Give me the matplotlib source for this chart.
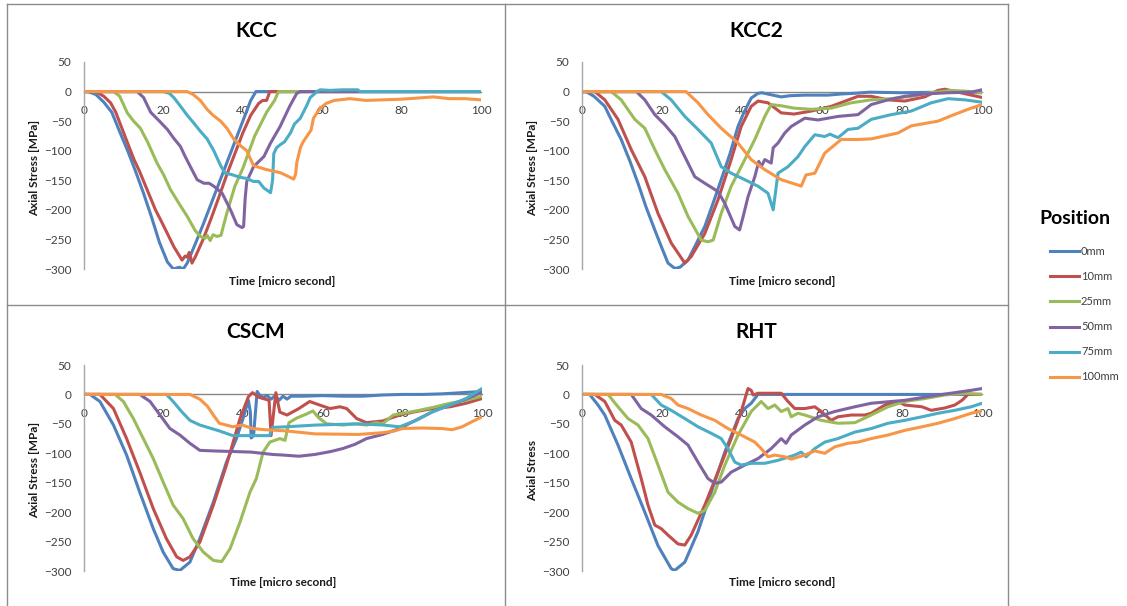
import matplotlib
matplotlib.use('Agg')
import matplotlib.pyplot as plt
from matplotlib.lines import Line2D

plt.rcParams['font.family'] = ['Lato', 'DejaVu Sans']

W, H = 1127, 606

positions = ['0mm', '10mm', '25mm', '50mm', '75mm', '100mm']
colors = ['#4F81BD', '#C0504D', '#9BBB59', '#8064A2', '#4BACC6', '#F79646']

x_ticks = [0, 20, 40, 60, 80, 100]
y_ticks = [-300, -250, -200, -150, -100, -50, 0, 50]

# ---- KCC : (time [micro s], axial stress [MPa]) ----
kcc_0mm = [(0, 0), (1, 0), (3, -5), (5, -18), (7, -35), (9, -68), (11, -100), (13, -135),
           (15, -172), (17, -212), (19, -255), (21, -288), (22.5, -300), (24, -297), (25, -300),
           (26, -290), (28, -258), (30, -225), (32, -190), (34, -155), (36, -120), (38, -85),
           (40, -50), (42, -15), (43.3, 0), (100, 0)]
kcc_10mm = [(0, 0), (3, 0), (5, -8), (6.7, -19), (8, -35), (10, -70), (12.6, -115), (14, -135),
            (15.9, -166), (18, -200), (19.3, -217), (21, -240), (22.6, -262), (24.7, -285),
            (25.5, -278), (26, -280), (26.5, -272), (27.2, -290), (28, -280), (30, -250),
            (32, -215), (34, -178), (36, -140), (38, -105), (40, -70), (42, -40), (44, -20),
            (45, -15), (46, -15), (46.8, 0), (100, 0)]
kcc_25mm = [(0, 0), (7.5, 0), (9, -8), (10.9, -36), (12.5, -50), (14.2, -62), (16, -85),
            (18.4, -121), (20, -140), (21.8, -166), (24, -190), (26, -211), (28, -235),
            (29.3, -245), (30.5, -248), (31, -243), (31.8, -252), (32.5, -242), (33.5, -245),
            (34.5, -243), (36, -205), (38, -160), (40, -130), (43, -75), (46, -35), (48, -15),
            (49, 0), (100, 0)]
kcc_50mm = [(0, 0), (13.4, 0), (15, -10), (16.8, -35), (19, -50), (21, -64), (22.5, -78),
            (24.3, -93), (25.5, -110), (26.8, -127), (28.5, -149), (30.2, -155), (31.5, -155),
            (32.7, -160), (34.8, -172), (36.9, -200), (38.5, -225), (39.8, -230), (40.2, -228),
            (40.6, -180), (41, -152), (42.7, -127), (45.3, -110), (47, -87), (49.4, -59),
            (51.8, -25), (53.6, -3), (54.5, 0), (100, 0)]
kcc_75mm = [(0, 0), (20, 0), (21.5, -3), (22.6, -10), (24, -22), (26, -40), (27.5, -52),
            (29.3, -67), (31, -80), (32.7, -100), (34.4, -125), (35.5, -138), (37, -140),
            (39.4, -145), (41, -147), (42.7, -152), (44, -152), (45.3, -163), (47, -171),
            (47.5, -150), (47.8, -105), (48.5, -95), (49.4, -90), (50.5, -85), (52, -70),
            (53, -55), (54.5, -45), (56, -25), (57, -10), (58.7, 0), (59.5, 3), (62, 2),
            (65, 3), (69, 3), (69.5, 0), (100, 0)]
kcc_100mm = [(0, 0), (26, 0), (27.5, -5), (29.3, -15), (31, -30), (32.5, -40), (34.4, -50),
             (36, -62), (37.7, -80), (39.5, -92), (41, -100), (42, -115), (42.7, -125),
             (44, -128), (46, -132), (48, -135), (49.4, -137), (51, -142), (52.8, -148),
             (53.3, -140), (53.6, -120), (54.5, -95), (55.2, -85), (56.2, -75), (57.2, -65),
             (57.8, -45), (59.5, -28), (61, -20), (63, -15), (67, -12), (71, -15), (75, -14),
             (79.6, -13), (84, -11), (88, -9), (92, -12), (96, -12), (100, -14)]

# ---- KCC2 ----
kcc2_0mm = [(0, 0), (1, 0), (3, -8), (5.7, -25), (7.5, -50), (9.8, -81), (12, -118), (14, -155),
            (16, -195), (18.2, -234), (20, -265), (21.5, -290), (23.2, -299), (24.5, -297),
            (26.5, -285), (28.5, -258), (30.7, -228), (32.7, -190), (34.8, -149), (37, -105),
            (39, -59), (40.5, -35), (42.3, -11), (44, -3), (45, -2), (47, -5), (49.8, -9),
            (52, -7), (55.7, -6), (61.5, -6), (65, -4), (68, -3), (72, -1), (80, -2),
            (90, -1), (100, -2)]
kcc2_10mm = [(0, 0), (3.2, 0), (5.7, -14), (9, -47), (12.3, -98), (15.7, -144), (19, -206),
             (22.3, -256), (25.7, -290), (27.3, -279), (30.7, -240), (34, -183), (37.3, -115),
             (39.8, -59), (42.3, -25), (44, -16), (46.5, -19), (49.8, -36), (53, -38),
             (57.3, -33), (62.3, -25), (69, -8), (72.3, -8), (76.5, -14), (80.7, -16),
             (85.7, -9), (89, 2), (90.7, 4), (94, -1), (100, -10)]
kcc2_25mm = [(0, 0), (7.3, 0), (9.8, -14), (13.2, -47), (15.7, -62), (18.2, -98), (20.7, -132),
             (24, -172), (26.5, -211), (29.8, -251), (31.5, -254), (32.8, -251), (34.8, -206),
             (37.3, -160), (40.7, -115), (43.2, -81), (45.7, -42), (47.3, -22), (49.8, -24),
             (53, -28), (57.3, -30), (62.3, -28), (67.3, -19), (72.3, -14), (77.3, -12),
             (82.3, -8), (87.3, -2), (92.3, 2), (97.3, 0), (100, -2)]
kcc2_50mm = [(0, 0), (13.6, 0), (15.7, -14), (18.2, -39), (20.7, -56), (23.2, -76), (25.7, -110),
             (28.2, -144), (30.7, -155), (34, -169), (35.7, -189), (38.2, -228), (39.4, -234),
             (40.3, -211), (41.5, -178), (43.2, -144), (44.2, -118), (44.8, -127), (45.7, -115),
             (47.3, -121), (47.8, -95), (49, -87), (50.7, -70), (52.3, -59), (55.7, -45),
             (59, -48), (64, -42), (69, -39), (72.3, -22), (76.5, -14), (80.7, -8), (85.7, -4),
             (91.5, -2), (97.3, -1), (100, 3)]
kcc2_75mm = [(0, 0), (19.8, 0), (22.3, -14), (25.7, -42), (29, -64), (32.3, -87), (34.8, -127),
             (37.3, -138), (40.7, -149), (44, -160), (46.5, -172), (47.8, -200), (49, -138),
             (51.5, -127), (54, -110), (55.7, -93), (58.2, -73), (60.7, -76), (62, -72),
             (64, -78), (66.5, -64), (69, -62), (72.3, -47), (77.3, -39), (82.3, -33),
             (87.3, -19), (91.5, -12), (95.7, -14), (100, -18)]
kcc2_100mm = [(0, 0), (26, 0), (29, -19), (31.5, -39), (34.8, -62), (39, -87), (42.3, -115),
              (45.7, -132), (49.8, -149), (54, -158), (54.8, -160), (56, -141), (58.2, -138),
              (60.7, -104), (64.8, -81), (69, -81), (72.3, -80), (79, -70), (82.3, -58),
              (89, -50), (93, -39), (97.3, -28), (100, -22)]

# ---- CSCM ----
cscm_0mm = [(0, 0), (1.5, 0), (4, -12), (7.4, -52), (10.7, -103), (14, -166), (17.4, -228),
            (19.9, -268), (22.4, -296), (24.1, -299), (26.6, -285), (29.1, -245), (32.5, -183),
            (35.8, -115), (38.3, -75), (40, -40), (41.3, -10), (41.8, -30), (42, -74),
            (42.6, -70), (43.5, 5), (44, 0), (45, -5), (46, -2), (47, -8), (48, -2), (49, -10),
            (50, -3), (51, -8), (52, -3), (55, -3), (60, -2), (65, -3), (70, -3), (75, -1),
            (80, 0), (85, 0), (90, 1), (95, 3), (100, 5)]
cscm_10mm = [(0, 0), (4, 0), (7.4, -24), (10.7, -75), (14, -132), (17.4, -194), (20.7, -245),
             (23.3, -276), (24.9, -282), (26.6, -276), (29.1, -251), (32.5, -188), (35.8, -120),
             (39.2, -41), (41.3, -4), (42.3, 3), (43, 0), (44, -5), (46.5, -10), (47, -70),
             (48.2, 3), (49.2, -30), (51, -35), (54, -24), (56.7, -12), (59.2, -18),
             (61.8, -24), (64.3, -21), (66, -24), (68.5, -41), (71, -48), (75.1, -45),
             (79.3, -35), (83.5, -29), (87.7, -24), (92, -21), (96, -15), (100, -7)]
cscm_25mm = [(0, 0), (7.8, 0), (9.9, -12), (12.4, -41), (14.9, -75), (17.4, -109), (19.9, -149),
             (22.4, -188), (24.9, -211), (27.4, -245), (30, -268), (32.5, -282), (34.6, -284),
             (36.7, -262), (39.2, -217), (41.7, -166), (43.3, -143), (45, -98), (46.7, -81),
             (49.2, -75), (50.5, -78), (51.5, -48), (53.5, -40), (56, -33), (57.5, -28),
             (59, -40), (61, -50), (65, -52), (68, -50), (71, -52), (73.5, -48), (75, -50),
             (77.7, -35), (83.5, -28), (87.7, -22), (92, -15), (96, -10), (100, -3)]
cscm_50mm = [(0, 0), (14, 0), (16.6, -12), (19.1, -35), (21.6, -58), (24.1, -69), (26.6, -83),
             (29.1, -95), (32.5, -96), (37.4, -97), (42, -98), (47.4, -102), (50, -103),
             (54, -105), (58, -102), (62, -97), (65, -92), (68, -85), (71, -75), (75, -68),
             (79.3, -58), (83, -45), (87.7, -29), (92, -18), (96, -8), (100, 4)]
cscm_75mm = [(0, 0), (20.7, 0), (22.4, -12), (24.5, -29), (26.6, -44), (29.1, -52), (34, -62),
             (37.4, -70), (41.5, -70), (46.6, -70), (47.4, -56), (50.8, -55), (58.3, -52),
             (69, -50), (75.1, -52), (79.3, -55), (83.5, -44), (87.7, -29), (92, -18),
             (96, -7), (100, 10)]
cscm_100mm = [(0, 0), (26.6, 0), (29.1, -8), (31, -20), (32.5, -35), (34, -49), (37.4, -55),
              (39.8, -52), (42.3, -58), (45.6, -60), (50.8, -62), (58, -67), (69, -68),
              (75, -65), (78, -62), (80, -58), (85, -57), (90, -58), (92.5, -60), (95, -55),
              (97, -48), (100, -38)]

# ---- RHT ----
rht_0mm = [(0, 0), (1.9, 0), (4, -18), (5.7, -35), (9, -86), (12.3, -143), (15.7, -200),
           (19, -257), (22.3, -296), (23.2, -299), (25.7, -285), (29, -233), (32.3, -166),
           (35.7, -98), (39, -41), (40.7, -24), (42.3, -15), (44, 0), (100, 0)]
rht_10mm = [(0, 0), (3.2, 0), (5.7, -12), (8.2, -44), (9.8, -52), (12.3, -81), (14.8, -143),
            (16.5, -188), (18.2, -222), (19.8, -228), (21.5, -239), (24, -254), (25.7, -256),
            (27.3, -239), (30.7, -188), (34, -132), (37.3, -75), (39.8, -29), (41.5, 10),
            (42.3, 7), (42.8, -1), (44, 2), (49.8, 2), (51.5, -12), (53.2, -24), (55.7, -24),
            (58.2, -21), (59.8, -29), (62.3, -44), (64, -38), (67.3, -35), (70.7, -35),
            (72.3, -32), (75.7, -18), (79, -12), (80.7, -18), (85, -21), (87.3, -27),
            (90.7, -23), (93.2, -18), (95, -10), (96.5, 0), (100, 0)]
rht_25mm = [(0, 0), (6.5, 0), (9, -21), (11.5, -41), (14, -52), (16.5, -75), (19, -120),
            (21.5, -166), (24, -183), (26.5, -194), (29, -202), (30.7, -197), (33.2, -166),
            (35.7, -120), (39, -69), (42.3, -29), (44.8, -12), (46.5, -24), (48.2, -18),
            (49.8, -29), (51.5, -24), (52.3, -38), (54, -32), (55.7, -35), (59.8, -44),
            (64, -49), (68.2, -48), (72.3, -35), (76.5, -21), (80.7, -12), (85.7, -7),
            (90.7, -1), (95.7, 2), (100, 0)]
rht_50mm = [(0, 0), (12.3, 0), (14.8, -24), (17.3, -35), (20.7, -55), (24, -72), (26.5, -86),
            (29, -115), (31.5, -143), (33.2, -151), (34.8, -149), (37.3, -132), (40.7, -120),
            (44, -109), (47.3, -92), (49.8, -75), (51, -83), (52.3, -69), (55.7, -52),
            (59, -38), (63.2, -29), (68.2, -21), (72.3, -15), (80.7, -10), (89, -1),
            (93.2, 3), (97.3, 7), (100, 10)]
rht_75mm = [(0, 0), (17.3, 0), (19.8, -18), (22.3, -27), (25.7, -41), (29, -55), (32.3, -66),
            (34.8, -75), (36.5, -92), (38.2, -115), (39.8, -120), (42.3, -117), (45.7, -117),
            (49, -112), (53.2, -103), (54.8, -98), (56, -106), (58.2, -92), (60.7, -81),
            (64, -75), (68.2, -64), (72.3, -58), (76.5, -49), (80.7, -44), (85, -38),
            (89, -32), (93.2, -27), (97.3, -21), (100, -15)]
rht_100mm = [(0, 0), (19.8, 0), (22.3, -7), (24, -18), (26.5, -24), (29.8, -35), (33.2, -44),
             (36.5, -58), (39.8, -69), (43.2, -81), (44.8, -92), (46.5, -106), (48.2, -103),
             (50.7, -106), (52.3, -110), (55.7, -103), (58.2, -96), (60.7, -100), (63.2, -89),
             (66.5, -83), (69, -81), (72.3, -75), (76.5, -69), (80.7, -61), (85, -55),
             (89, -49), (93.2, -41), (97.3, -32), (100, -28)]

panels = [
    ('KCC', [kcc_0mm, kcc_10mm, kcc_25mm, kcc_50mm, kcc_75mm, kcc_100mm], 'Axial Stress [MPa]'),
    ('KCC2', [kcc2_0mm, kcc2_10mm, kcc2_25mm, kcc2_50mm, kcc2_75mm, kcc2_100mm], 'Axial Stress [MPa]'),
    ('CSCM', [cscm_0mm, cscm_10mm, cscm_25mm, cscm_50mm, cscm_75mm, cscm_100mm], 'Axial Stress [MPa]'),
    ('RHT', [rht_0mm, rht_10mm, rht_25mm, rht_50mm, rht_75mm, rht_100mm], 'Axial Stress'),
]

# pixel layout: axes box (left, right, top, bottom), panel box (left, right, top, bottom)
axes_px = [(84, 481, 62, 269), (582, 982, 62, 269), (84, 482, 365, 571), (582, 982, 365, 571)]
panel_px = [(7, 505, 4, 305), (505, 1008, 4, 305), (7, 505, 305, 606), (505, 1008, 305, 606)]

fig = plt.figure(figsize=(W / 100, H / 100), dpi=100)
fig.patch.set_facecolor('white')

def fx(px):
    return px / W

def fy(py):
    return 1 - py / H

# panel frames
border = '#8c8c8c'
for x0, x1, y0, y1 in [(7, 1008, 4, 4), (7, 1008, 305, 305), (7, 7, 4, 606),
                       (505, 505, 4, 606), (1008, 1008, 4, 606)]:
    fig.add_artist(Line2D([fx(x0), fx(x1)], [fy(y0), fy(y1)], color=border, lw=1.0,
                          transform=fig.transFigure))

tick_col = '#404040'
for (title, series, ylab), (l, r, t, b), (pl, pr, pt, pb) in zip(panels, axes_px, panel_px):
    ax = fig.add_axes([fx(l), fy(b), fx(r) - fx(l), fy(t) - fy(b)])
    for data, c in zip(series, colors):
        ts = [p[0] for p in data]
        ss = [p[1] for p in data]
        ax.plot(ts, ss, color=c, lw=2.2, solid_joinstyle='round', solid_capstyle='round')
    ax.set_xlim(0, 100)
    ax.set_ylim(-300, 50)
    ax.set_xticks(x_ticks)
    ax.set_yticks(y_ticks)
    ax.set_facecolor('none')
    for s in ['top', 'right']:
        ax.spines[s].set_visible(False)
    ax.spines['left'].set_color('#a6a6a6')
    ax.spines['left'].set_linewidth(1.0)
    ax.spines['bottom'].set_position(('data', 0))
    ax.spines['bottom'].set_color('#868686')
    ax.spines['bottom'].set_linewidth(1.0)
    ax.spines['bottom'].set_zorder(0.5)
    ax.tick_params(axis='x', length=0, pad=10, labelsize=8.5, labelcolor=tick_col)
    ax.tick_params(axis='y', length=0, pad=9, labelsize=8.5, labelcolor=tick_col)
    ax.text(0.5, -0.058, 'Time [micro second]', transform=ax.transAxes, ha='center', va='center',
            fontsize=8.5, fontweight='bold', color='#1a1a1a')
    # y label sits about 49 px left of the axis line
    ax.text(-49.5 / (r - l), 0.49, ylab, transform=ax.transAxes,
            rotation=90, ha='center', va='center', fontsize=8.5, fontweight='bold', color='#1a1a1a')
    fig.text(fx((pl + pr) / 2), fy(pt + 27), title, ha='center', va='center',
             fontsize=15, fontweight='bold', color='black')

# legend on the right
fig.text(fx(1075), fy(219), 'Position', ha='center', va='center', fontsize=14,
         fontweight='bold', color='black')
for i, (lab, c) in enumerate(zip(positions, colors)):
    yy = 251 + i * 25.2
    fig.add_artist(Line2D([fx(1050), fx(1079)], [fy(yy), fy(yy)], color=c, lw=2.2,
                          transform=fig.transFigure))
    fig.text(fx(1081), fy(yy), lab, ha='left', va='center', fontsize=8, color=tick_col)

fig.savefig('out.png', dpi=100)
